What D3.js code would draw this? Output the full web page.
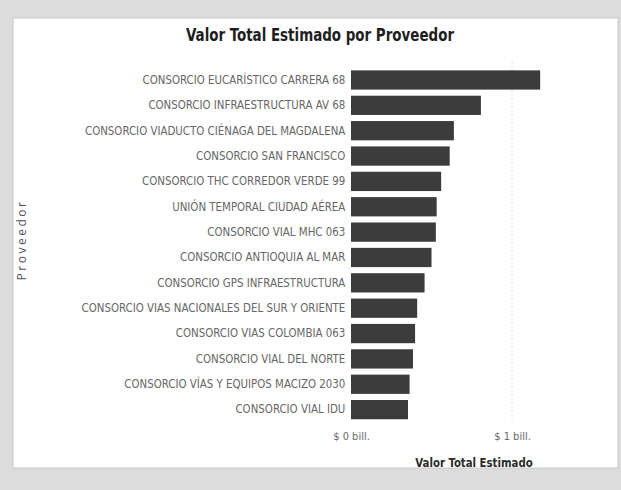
<!DOCTYPE html>
<html><head><meta charset="utf-8">
<script src="https://cdn.jsdelivr.net/npm/d3@7"></script>
<style>
html,body{margin:0;padding:0;background:#dcdcdc;}
svg{display:block;}
</style></head>
<body>
<svg id="c" width="621" height="490"></svg>
<script>
const categories = [
  "CONSORCIO EUCARÍSTICO CARRERA 68",
  "CONSORCIO INFRAESTRUCTURA AV 68",
  "CONSORCIO VIADUCTO CIÉNAGA DEL MAGDALENA",
  "CONSORCIO SAN FRANCISCO",
  "CONSORCIO THC CORREDOR VERDE 99",
  "UNIÓN TEMPORAL CIUDAD AÉREA",
  "CONSORCIO VIAL MHC 063",
  "CONSORCIO ANTIOQUIA AL MAR",
  "CONSORCIO GPS INFRAESTRUCTURA",
  "CONSORCIO VIAS NACIONALES DEL SUR Y ORIENTE",
  "CONSORCIO VIAS COLOMBIA 063",
  "CONSORCIO VIAL DEL NORTE",
  "CONSORCIO VÍAS Y EQUIPOS MACIZO 2030",
  "CONSORCIO VIAL IDU"
];
// valores en billones de pesos
const values = [1.175, 0.807, 0.639, 0.613, 0.56, 0.532, 0.527, 0.50, 0.457, 0.411, 0.398, 0.385, 0.364, 0.354];
const tickValues = [0, 1];
const tickLabels = ["$ 0 bill.", "$ 1 bill."];
const title = "Valor Total Estimado por Proveedor";
const xTitle = "Valor Total Estimado";
const yTitle = "Proveedor";

const svg = d3.select("#c");
const narrow = "'Liberation Sans Narrow','DejaVu Sans Condensed','Arial Narrow',sans-serif";

// card
svg.append("rect").attr("x",0).attr("y",0).attr("width",621).attr("height",490).attr("fill","#dcdcdc");
svg.append("rect").attr("x",13).attr("y",18).attr("width",605).attr("height",450)
  .attr("fill","#ffffff").attr("stroke","#c8c8c8").attr("stroke-width",1);

const x = d3.scaleLinear().domain([0,1.5]).range([351, 351+161*1.5]);
const y = d3.scaleBand().domain(categories).range([67.3, 422.3]).paddingInner(0.24).paddingOuter(0.12);

// gridlines
const g = svg.append("g");
g.selectAll("line.grid").data(tickValues.slice(1)).enter().append("line")
  .attr("x1",d=>x(d)).attr("x2",d=>x(d)).attr("y1",62).attr("y2",422)
  .attr("stroke","#e2e2e2").attr("stroke-dasharray","2,2").attr("stroke-width",1);

// bars
g.selectAll("rect.bar").data(values).enter().append("rect")
  .attr("x",x(0)).attr("y",(d,i)=>y(categories[i]))
  .attr("width",d=>x(d)-x(0)).attr("height",y.bandwidth())
  .attr("fill","#3c3c3c");

// y axis labels
const yAxis = d3.axisLeft(y).tickSize(0).tickPadding(6);
const ya = svg.append("g").attr("transform",`translate(${x(0)},0) scale(0.95,1)`).call(yAxis);
ya.select(".domain").remove();
ya.selectAll("text").attr("fill","#666").style("font-family",narrow).style("font-size","12px");

// x axis labels
const xAxis = d3.axisBottom(x).tickValues(tickValues).tickSize(0).tickPadding(0)
  .tickFormat((d,i)=>tickLabels[i]);
const xa = svg.append("g").attr("transform",`translate(0,432)`).call(xAxis);
xa.select(".domain").remove();
xa.selectAll("text").attr("fill","#6a6a6a").style("font-family",narrow).style("font-size","11px");

// titles
svg.append("text").attr("transform","translate(320,41) scale(0.83,1)").attr("text-anchor","middle")
  .style("font-family",narrow).style("font-weight","bold").style("font-size","18px")
  .attr("fill","#1e1e1e").text(title);
svg.append("text").attr("transform","translate(474,467) scale(0.87,1)").attr("text-anchor","middle")
  .style("font-family",narrow).style("font-weight","bold").style("font-size","13px")
  .attr("fill","#2a2a2a").text(xTitle);
svg.append("text").attr("transform","translate(26,240) rotate(-90)").attr("text-anchor","middle")
  .style("font-family","'Open Sans','DejaVu Sans',sans-serif").style("font-size","12px")
  .style("letter-spacing","2.5px").attr("fill","#555").text(yTitle);
</script>
</body></html>
